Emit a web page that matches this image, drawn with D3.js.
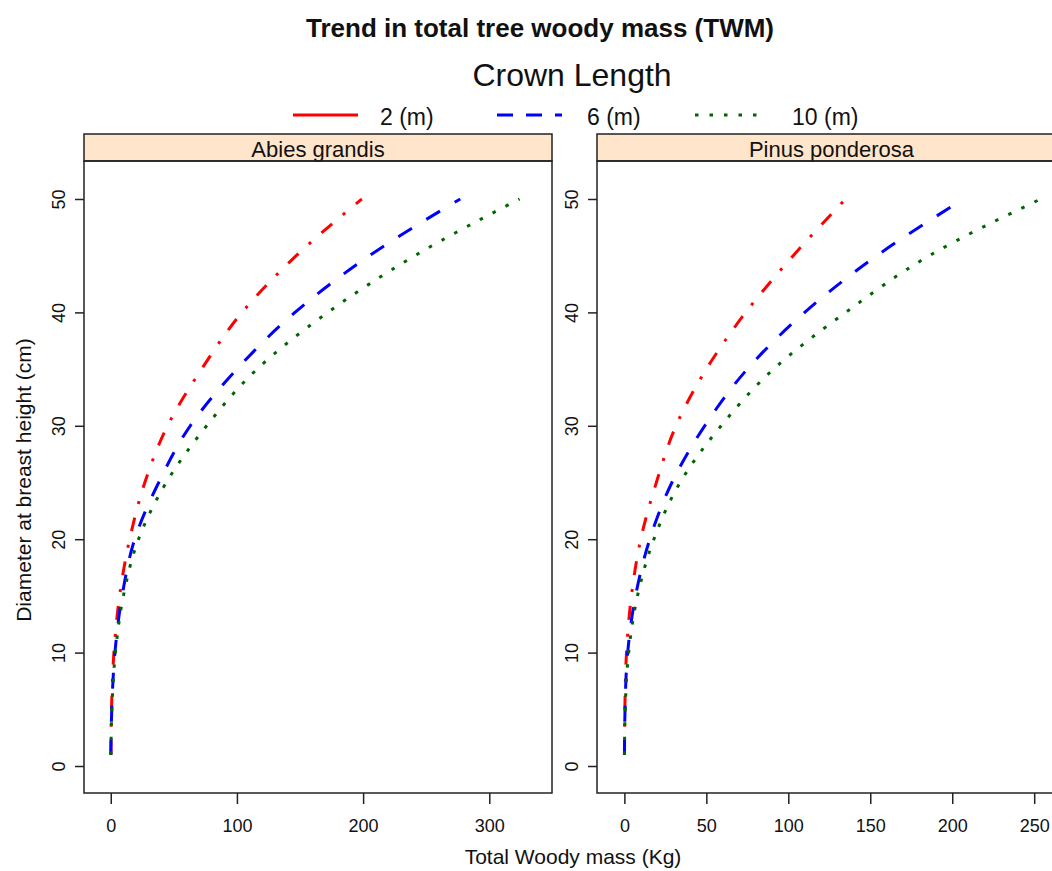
<!DOCTYPE html>
<html>
<head>
<meta charset="utf-8">
<script src="https://cdn.jsdelivr.net/npm/d3@7"></script>
<style>
  body { margin: 0; background: #fff; }
  text { font-family: "Liberation Sans", Arial, sans-serif; fill: #111; }
</style>
</head>
<body>
<script>
// Data: DBH (cm) vs. total woody mass (Kg)
const dbh = [1, 5, 10, 15, 20, 25, 30, 35, 40, 45, 50];

const crownLabels = ["2 (m)", "6 (m)", "10 (m)"];
const species = ["Abies grandis", "Pinus ponderosa"];

const abiesCL2  = [0.1, 0.6, 2.5, 7, 15, 27, 45, 72, 104, 147, 199];
const abiesCL6  = [0.1, 0.8, 3.3, 9, 19, 38, 63, 100, 146, 205, 277];
const abiesCL10 = [0.1, 0.9, 3.7, 10, 22, 44, 76, 116, 172, 241, 324];

const pinusCL2  = [0.05, 0.3, 1.3, 4.3, 10, 19.5, 31.5, 50, 74, 103, 135];
const pinusCL6  = [0.05, 0.4, 2, 6.8, 15.5, 29, 49, 75, 110, 154, 207];
const pinusCL10 = [0.05, 0.5, 2.6, 8, 18, 34, 59, 91, 135, 186, 254];

const xTicksLeft = [0, 100, 200, 300];
const xTicksRight = [0, 50, 100, 150, 200, 250];
const yTicks = [0, 10, 20, 30, 40, 50];

// Styles
const colors = ["#ff0000", "#0000ff", "#006400"];
const dashes = ["14,14,3,14", "16,17", "3.5,11"];
const legendDashes = [null, "16,13", "3.5,11"];

const WIDTH = 1052, HEIGHT = 871;
const PANEL_TOP = 161, PANEL_BOTTOM = 793, STRIP_TOP = 134;

const panels = [
  { name: species[0], left: 84, right: 552, domain: [-21.2, 349.7], ticks: xTicksLeft,
    series: [abiesCL2, abiesCL6, abiesCL10] },
  { name: species[1], left: 597, right: 1066, domain: [-16.7, 269.4], ticks: xTicksRight,
    series: [pinusCL2, pinusCL6, pinusCL10] }
];

const svg = d3.select("body")
  .append("svg")
  .attr("width", WIDTH)
  .attr("height", HEIGHT);

// Titles
svg.append("text")
  .attr("x", 540)
  .attr("y", 37)
  .attr("text-anchor", "middle")
  .style("font-size", "26px")
  .style("font-weight", "bold")
  .text("Trend in total tree woody mass (TWM)");

svg.append("text")
  .attr("x", 572)
  .attr("y", 86)
  .attr("text-anchor", "middle")
  .style("font-size", "32px")
  .text("Crown Length");

// Legend
const legendItems = [
  { x1: 293, x2: 358, tx: 380 },
  { x1: 497, x2: 562, tx: 587 },
  { x1: 695, x2: 765, tx: 792 }
];
legendItems.forEach((it, i) => {
  svg.append("line")
    .attr("x1", it.x1).attr("x2", it.x2)
    .attr("y1", 115).attr("y2", 115)
    .attr("stroke", colors[i])
    .attr("stroke-width", 3)
    .attr("stroke-dasharray", legendDashes[i]);
  svg.append("text")
    .attr("x", it.tx)
    .attr("y", 125)
    .style("font-size", "23px")
    .text(crownLabels[i]);
});

const y = d3.scaleLinear()
  .domain([-2.38, 53.35])
  .range([PANEL_BOTTOM, PANEL_TOP]);

panels.forEach((p) => {
  const x = d3.scaleLinear()
    .domain(p.domain)
    .range([p.left, p.right]);

  const g = svg.append("g");

  // Strip
  g.append("rect")
    .attr("x", p.left).attr("y", STRIP_TOP)
    .attr("width", p.right - p.left)
    .attr("height", PANEL_TOP - STRIP_TOP)
    .attr("fill", "#ffe5cc")
    .attr("stroke", "#222")
    .attr("stroke-width", 1.5);
  g.append("text")
    .attr("x", (p.left + p.right) / 2)
    .attr("y", PANEL_TOP - 4)
    .attr("text-anchor", "middle")
    .style("font-size", "22px")
    .text(p.name);

  // Lines
  const line = d3.line()
    .x((d) => x(d[1]))
    .y((d) => y(d[0]))
    .curve(d3.curveMonotoneY);

  p.series.forEach((vals, i) => {
    g.append("path")
      .datum(dbh.map((d, j) => [d, vals[j]]))
      .attr("fill", "none")
      .attr("stroke", colors[i])
      .attr("stroke-width", 3)
      .attr("stroke-dasharray", dashes[i])
      .attr("d", line);
  });

  // Panel border
  g.append("rect")
    .attr("x", p.left).attr("y", PANEL_TOP)
    .attr("width", p.right - p.left)
    .attr("height", PANEL_BOTTOM - PANEL_TOP)
    .attr("fill", "none")
    .attr("stroke", "#222")
    .attr("stroke-width", 1.5);

  // X axis
  const xAxis = g.append("g")
    .attr("transform", `translate(0, ${PANEL_BOTTOM})`)
    .call(d3.axisBottom(x).tickValues(p.ticks).tickSize(11).tickSizeOuter(0).tickPadding(15));
  xAxis.select(".domain").remove();
  xAxis.selectAll("line").attr("stroke", "#222").attr("stroke-width", 1.5);
  xAxis.selectAll("text")
    .style("font-size", "18px")
    .attr("fill", "#111")
    .attr("font-family", null);

  // Y axis
  const yAxis = g.append("g")
    .attr("transform", `translate(${p.left}, 0)`)
    .call(d3.axisLeft(y).tickValues(yTicks).tickSize(9).tickSizeOuter(0));
  yAxis.select(".domain").remove();
  yAxis.selectAll("line").attr("stroke", "#222").attr("stroke-width", 1.5);
  yAxis.selectAll("text")
    .attr("x", null)
    .attr("dy", null)
    .attr("text-anchor", "middle")
    .attr("dominant-baseline", "central")
    .attr("transform", "translate(-25,0) rotate(-90)")
    .style("font-size", "18px")
    .attr("fill", "#111")
    .attr("font-family", null);
});

// Axis titles
svg.append("text")
  .attr("x", 573)
  .attr("y", 864)
  .attr("text-anchor", "middle")
  .style("font-size", "21px")
  .text("Total Woody mass (Kg)");

svg.append("text")
  .attr("transform", "translate(31, 480) rotate(-90)")
  .attr("text-anchor", "middle")
  .style("font-size", "21px")
  .text("Diameter at breast height (cm)");
</script>
</body>
</html>
